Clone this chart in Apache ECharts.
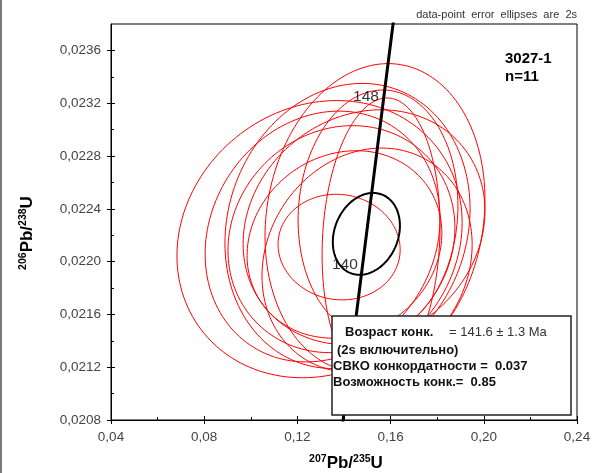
<!DOCTYPE html>
<html>
<head>
<meta charset="utf-8">
<script src="https://cdn.jsdelivr.net/npm/echarts@6/dist/echarts.min.js"></script>
<style>
  html, body { margin: 0; padding: 0; background: #fff; }
  #chart { width: 603px; height: 473px; }
</style>
</head>
<body>
<div id="chart"></div>
<script>
// Axis ticks
const xTicks = [0.04, 0.08, 0.12, 0.16, 0.20, 0.24];
const xMinorTicks = [0.06, 0.10, 0.14, 0.18, 0.22];
const yTicks = [0.0208, 0.0212, 0.0216, 0.0220, 0.0224, 0.0228, 0.0232, 0.0236];
const yMinorTicks = [0.0210, 0.0214, 0.0218, 0.0222, 0.0226, 0.0230, 0.0234];

// Analyses: 207Pb/235U, 206Pb/238U, 2s errors and error correlation
const ellX   = [0.1295, 0.1533, 0.1308, 0.1415, 0.1389, 0.1486, 0.1402, 0.1379, 0.1559, 0.1546, 0.1499];
const ellY   = [0.02217, 0.02233, 0.02219, 0.02227, 0.02217, 0.02226, 0.02213, 0.02211, 0.02216, 0.02237, 0.02201];
const ellSx  = [0.0612, 0.0472, 0.0504, 0.0526, 0.0487, 0.0519, 0.0418, 0.0262, 0.0253, 0.0343, 0.0451];
const ellSy  = [0.00105, 0.00117, 0.00095, 0.00108, 0.00086, 0.00089, 0.00071, 0.00040, 0.00108, 0.00093, 0.00085];
const ellRho = [0.12, 0.12, 0.14, 0.12, 0.10, 0.14, 0.12, -0.05, 0.10, 0.06, 0.14];

// Concordia age ellipse
const concAgeX = [0.1496];
const concAgeY = [0.02221];
const concAgeSx = [0.0144];
const concAgeSy = [0.00031];
const concAgeRho = [0.20];

// Concordia curve (age in Ma, 207Pb/235U, 206Pb/238U)
const concAges = [132, 136, 140, 144, 148, 152];
const concX = [0.13883, 0.14332, 0.14784, 0.15237, 0.15692, 0.16148];
const concY = [0.020688, 0.021321, 0.021955, 0.022589, 0.023224, 0.023859];
const labelledAges = [140, 148];

// Sample summary
const sampleName = '3027-1';
const nPoints = 11;
const concordiaAge = 141.6;
const concordiaErr = 1.3;
const mswd = 0.037;
const probability = 0.85;

const FONT = '"Liberation Sans", Arial, Helvetica, sans-serif';

function ellipseSeriesData(xs, ys, sx, sy, rho) {
  return xs.map((x, i) => [x, ys[i], sx[i], sy[i], rho[i]]);
}

// Outline of an error ellipse from its centre, 2s errors and correlation
function ellipseRenderer(color, width) {
  return function (params, api) {
    const cx = api.value(0), cy = api.value(1);
    const ex = api.value(2), ey = api.value(3), r = api.value(4);
    const k = Math.sqrt(1 - r * r);
    const pts = [];
    const n = 160;
    for (let j = 0; j <= n; j++) {
      const t = j / n * 2 * Math.PI;
      pts.push(api.coord([cx + ex * Math.cos(t), cy + ey * (r * Math.cos(t) + k * Math.sin(t))]));
    }
    return {
      type: 'polyline',
      shape: { points: pts },
      style: { stroke: color, fill: null, lineWidth: width }
    };
  };
}

const concLine = concX.map((x, i) => [x, concY[i]]);
const ageMarks = labelledAges.map(a => {
  const i = concAges.indexOf(a);
  return { value: [concX[i], concY[i]], name: String(a) };
});

const chart = echarts.init(document.getElementById('chart'), null, { renderer: 'canvas' });

const xBase = { type: 'value', min: 0.04, max: 0.24, position: 'bottom', splitLine: { show: false } };
const yBase = { type: 'value', min: 0.0208, max: 0.0238, position: 'left', splitLine: { show: false } };

chart.setOption({
  animation: false,
  backgroundColor: '#ffffff',
  grid: {
    left: 111, right: 26, top: 24, bottom: 53,
    show: true, borderColor: '#000', borderWidth: 1, backgroundColor: 'transparent',
    outerBoundsMode: 'none'
  },
  xAxis: [
    Object.assign({}, xBase, {
      axisLine: { show: true, lineStyle: { color: '#000', width: 1 } },
      axisTick: { show: true, inside: false, length: 4, customValues: xTicks, lineStyle: { color: '#000' } },
      axisLabel: {
        customValues: xTicks, color: '#444', fontSize: 13.5, fontFamily: FONT, margin: 10,
        formatter: v => v.toFixed(2).replace('.', ',')
      }
    }),
    Object.assign({}, xBase, {
      axisLine: { show: false },
      axisTick: { show: true, inside: true, length: 4, customValues: xTicks, lineStyle: { color: '#000' } },
      axisLabel: { show: false }
    }),
    Object.assign({}, xBase, {
      axisLine: { show: false },
      axisTick: { show: true, inside: true, length: 3, customValues: xMinorTicks, lineStyle: { color: '#000' } },
      axisLabel: { show: false }
    })
  ],
  yAxis: [
    Object.assign({}, yBase, {
      axisLine: { show: true, lineStyle: { color: '#000', width: 1 } },
      axisTick: { show: true, inside: false, length: 4, customValues: yTicks, lineStyle: { color: '#000' } },
      axisLabel: {
        customValues: yTicks, color: '#444', fontSize: 13.5, fontFamily: FONT, margin: 10,
        formatter: v => v.toFixed(4).replace('.', ',')
      }
    }),
    Object.assign({}, yBase, {
      axisLine: { show: false },
      axisTick: { show: true, inside: true, length: 4, customValues: yTicks, lineStyle: { color: '#000' } },
      axisLabel: { show: false }
    }),
    Object.assign({}, yBase, {
      axisLine: { show: false },
      axisTick: { show: true, inside: true, length: 3, customValues: yMinorTicks, lineStyle: { color: '#000' } },
      axisLabel: { show: false }
    })
  ],
  series: [
    {
      name: 'analyses',
      type: 'custom',
      clip: true,
      renderItem: ellipseRenderer('#ff0000', 1),
      dimensions: ['x', 'y', 'sx', 'sy', 'rho'],
      encode: { x: 0, y: 1 },
      data: ellipseSeriesData(ellX, ellY, ellSx, ellSy, ellRho),
      z: 2
    },
    {
      name: 'concordia age',
      type: 'custom',
      clip: true,
      renderItem: ellipseRenderer('#000000', 2),
      dimensions: ['x', 'y', 'sx', 'sy', 'rho'],
      encode: { x: 0, y: 1 },
      data: ellipseSeriesData(concAgeX, concAgeY, concAgeSx, concAgeSy, concAgeRho),
      z: 3
    },
    {
      name: 'concordia',
      type: 'line',
      data: concLine,
      showSymbol: false,
      clip: true,
      lineStyle: { color: '#000', width: 3 },
      z: 4
    },
    {
      name: 'age marks',
      type: 'scatter',
      data: ageMarks,
      symbolSize: 1,
      itemStyle: { color: 'rgba(0,0,0,0)' },
      label: {
        show: true, position: 'left', distance: 4, offset: [0, -3],
        formatter: p => p.name,
        color: '#000', fontSize: 15.5, fontFamily: FONT
      },
      z: 5
    }
  ],
  graphic: [
    { type: 'rect', z: 100, shape: { x: 0, y: 0, width: 2, height: 473 }, style: { fill: '#7a7a7a' } },
    {
      type: 'text', z: 100, x: 577, y: 15,
      style: { text: 'data-point  error  ellipses  are  2s', font: '11px ' + FONT, fill: '#333', textAlign: 'right', textVerticalAlign: 'middle' }
    },
    {
      type: 'text', z: 100, x: 505, y: 59,
      style: { text: sampleName, font: 'bold 15px ' + FONT, fill: '#000', textAlign: 'left', textVerticalAlign: 'middle' }
    },
    {
      type: 'text', z: 100, x: 505, y: 77,
      style: { text: 'n=' + nPoints, font: 'bold 15px ' + FONT, fill: '#000', textAlign: 'left', textVerticalAlign: 'middle' }
    },
    {
      type: 'text', z: 100, x: 27, y: 233, rotation: Math.PI / 2,
      style: {
        text: '{s|206}{b|Pb/}{s|238}{b|U}',
        textAlign: 'center', textVerticalAlign: 'middle',
        rich: {
          s: { fontSize: 10.5, fontWeight: 'bold', fontFamily: FONT, fill: '#000', verticalAlign: 'top', lineHeight: 18 },
          b: { fontSize: 17, fontWeight: 'bold', fontFamily: FONT, fill: '#000', verticalAlign: 'bottom', lineHeight: 18 }
        }
      }
    },
    {
      type: 'text', z: 100, x: 346, y: 463,
      style: {
        text: '{s|207}{b|Pb/}{s|235}{b|U}',
        textAlign: 'center', textVerticalAlign: 'middle',
        rich: {
          s: { fontSize: 10.5, fontWeight: 'bold', fontFamily: FONT, fill: '#000', verticalAlign: 'top', lineHeight: 18 },
          b: { fontSize: 17, fontWeight: 'bold', fontFamily: FONT, fill: '#000', verticalAlign: 'bottom', lineHeight: 18 }
        }
      }
    },
    {
      type: 'rect', z: 100,
      shape: { x: 332, y: 316, width: 239, height: 99 },
      style: { fill: '#fff', stroke: '#222', lineWidth: 1.5 }
    },
    {
      type: 'text', z: 101, x: 345, y: 332,
      style: { text: 'Возраст конк.', font: 'bold 13px ' + FONT, fill: '#111', textAlign: 'left', textVerticalAlign: 'middle' }
    },
    {
      type: 'text', z: 101, x: 449, y: 332,
      style: { text: '= ' + concordiaAge.toFixed(1) + ' ± ' + concordiaErr.toFixed(1) + ' Ma', font: '13px ' + FONT, fill: '#333', textAlign: 'left', textVerticalAlign: 'middle' }
    },
    {
      type: 'text', z: 101, x: 337, y: 350,
      style: { text: '(2s включительно)', font: 'bold 13px ' + FONT, fill: '#111', textAlign: 'left', textVerticalAlign: 'middle' }
    },
    {
      type: 'text', z: 101, x: 333, y: 366,
      style: { text: 'СВКО конкордатности =  ' + mswd.toFixed(3), font: 'bold 13px ' + FONT, fill: '#111', textAlign: 'left', textVerticalAlign: 'middle' }
    },
    {
      type: 'text', z: 101, x: 333, y: 382,
      style: { text: 'Возможность конк.=  ' + probability.toFixed(2), font: 'bold 13px ' + FONT, fill: '#111', textAlign: 'left', textVerticalAlign: 'middle' }
    }
  ]
});
</script>
</body>
</html>
